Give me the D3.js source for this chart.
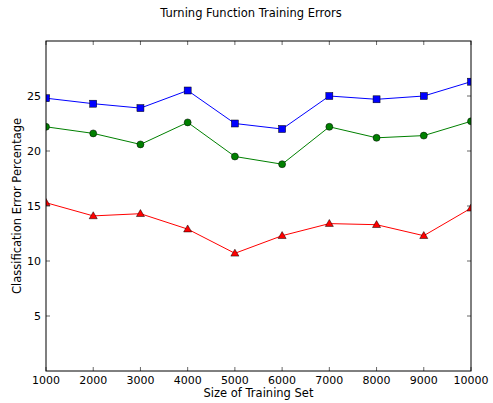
<!DOCTYPE html>
<html><head><meta charset="utf-8">
<script src="https://cdn.jsdelivr.net/npm/d3@7"></script>
<style>body{margin:0;background:#fff}svg{display:block}text{font-family:"DejaVu Sans",sans-serif;fill:#000}</style>
</head><body><svg id="c" width="493" height="403"></svg>
<script>
const sizes = [1000,2000,3000,4000,5000,6000,7000,8000,9000,10000];
const blueVals = [24.8,24.3,23.9,25.5,22.5,22.0,25.0,24.7,25.0,26.3];
const greenVals = [22.2,21.6,20.6,22.6,19.5,18.8,22.2,21.2,21.4,22.7];
const redVals = [15.3,14.1,14.3,12.9,10.7,12.3,13.4,13.3,12.3,14.8];
const xTicks = [1000,2000,3000,4000,5000,6000,7000,8000,9000,10000];
const yTicks = [5,10,15,20,25];
const title = "Turning Function Training Errors";
const xLabel = "Size of Training Set";
const yLabel = "Classification Error Percentage";

const svg = d3.select("#c");
const L=46, R=471, T=41, B=371;
const x = d3.scaleLinear().domain([1000,10000]).range([L,R]);
const y = d3.scaleLinear().domain([0,30]).range([B,T]);

const g = svg.append("g");
// ticks inward
const tl = 4;
xTicks.forEach(t=>{
  g.append("line").attr("x1",x(t)).attr("x2",x(t)).attr("y1",B).attr("y2",B-tl).attr("stroke","#000").attr("stroke-width",0.6);
  g.append("line").attr("x1",x(t)).attr("x2",x(t)).attr("y1",T).attr("y2",T+tl).attr("stroke","#000").attr("stroke-width",0.6);
  g.append("text").attr("x",x(t)).attr("y",B+13).attr("text-anchor","middle").attr("font-size",11).text(t);
});
yTicks.forEach(t=>{
  g.append("line").attr("x1",L).attr("x2",L+tl).attr("y1",y(t)).attr("y2",y(t)).attr("stroke","#000").attr("stroke-width",0.6);
  g.append("line").attr("x1",R).attr("x2",R-tl).attr("y1",y(t)).attr("y2",y(t)).attr("stroke","#000").attr("stroke-width",0.6);
  g.append("text").attr("x",L-5).attr("y",y(t)+4).attr("text-anchor","end").attr("font-size",11).text(t);
});

const series = [
  {vals: blueVals, color:"#0000ff", shape:"square"},
  {vals: greenVals, color:"#008000", shape:"circle"},
  {vals: redVals, color:"#ff0000", shape:"triangle"}
];
const clip = svg.append("clipPath").attr("id","cp").append("rect").attr("x",L).attr("y",T).attr("width",R-L).attr("height",B-T);
const line = d3.line().x((d,i)=>x(sizes[i])).y(d=>y(d));
series.forEach(s=>{
  const sg = svg.append("g").attr("clip-path","url(#cp)");
  sg.append("path").attr("d",line(s.vals)).attr("fill","none").attr("stroke",s.color).attr("stroke-width",1);
  s.vals.forEach((v,i)=>{
    const cx=x(sizes[i]), cy=y(v);
    if(s.shape==="square"){
      sg.append("rect").attr("x",cx-3.5).attr("y",cy-3.5).attr("width",7).attr("height",7).attr("fill",s.color).attr("stroke","#000").attr("stroke-width",0.5);
    } else if(s.shape==="circle"){
      sg.append("circle").attr("cx",cx).attr("cy",cy).attr("r",3.5).attr("fill",s.color).attr("stroke","#000").attr("stroke-width",0.5);
    } else {
      sg.append("path").attr("d",d3.symbol().type(d3.symbolTriangle).size(28)()).attr("transform",`translate(${cx},${cy+0.5})`).attr("fill",s.color).attr("stroke","#000").attr("stroke-width",0.5);
    }
  });
});
svg.append("rect").attr("x",L).attr("y",T).attr("width",R-L).attr("height",B-T).attr("fill","none").attr("stroke","#000").attr("stroke-width",1);

svg.append("text").attr("x",251).attr("y",17).attr("text-anchor","middle").attr("font-size",11.5).text(title);
svg.append("text").attr("x",(L+R)/2).attr("y",397).attr("text-anchor","middle").attr("font-size",11.5).text(xLabel);
svg.append("text").attr("transform",`translate(21,${(T+B)/2}) rotate(-90)`).attr("text-anchor","middle").attr("font-size",11.5).text(yLabel);
</script></body></html>
